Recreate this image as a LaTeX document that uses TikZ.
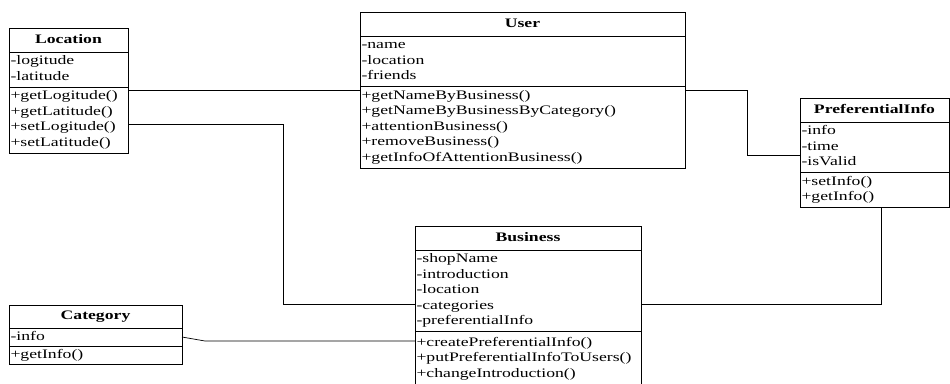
\documentclass[tikz,border=0pt]{standalone}
\usepackage{fontspec}
\setmainfont[FakeStretch=1.36]{Liberation Serif}
\begin{document}
\begin{tikzpicture}[x=1pt,y=-1pt,
  box/.style={draw=black, line width=0.9pt, anchor=north west, inner xsep=1.5pt,
    inner ysep=0pt, outer sep=0pt, font=\fontsize{13}{15.5}\selectfont,
    execute at begin node=\strut, execute at end node=\strut},
  head/.style={box, align=center, minimum height=24pt, font=\fontsize{13}{15.5}\selectfont\bfseries},
  part/.style={box, align=left},
  conn/.style={draw=black, line width=0.7pt}]
\useasboundingbox (0,0) rectangle (950,383);
\fill[white] (0,0) rectangle (950,383);
\begin{scope}
\clip (0,0) rectangle (950,383);

% Location
\node[head, text width=116pt] (locH) at (9,28) {Location};
\node[part, text width=116pt, minimum height=35pt] (locA) at (locH.south west) {-logitude\\-latitude};
\node[part, text width=116pt, minimum height=66pt] (locM) at (locA.south west)
  {+getLogitude()\\+getLatitude()\\+setLogitude()\\+setLatitude()};

% User
\node[head, text width=322pt] (usrH) at (360,12) {User};
\node[part, text width=322pt, minimum height=50.5pt] (usrA) at (usrH.south west) {-name\\-location\\-friends};
\node[part, text width=322pt, minimum height=81.5pt] (usrM) at (usrA.south west)
  {+getNameByBusiness()\\+getNameByBusinessByCategory()\\+attentionBusiness()\\+removeBusiness()\\+getInfoOfAttentionBusiness()};

% PreferentialInfo
\node[head, text width=146pt] (prfH) at (800,98) {PreferentialInfo};
\node[part, text width=146pt, minimum height=50.5pt] (prfA) at (prfH.south west) {-info\\-time\\-isValid};
\node[part, text width=146pt, minimum height=35pt] (prfM) at (prfA.south west) {+setInfo()\\+getInfo()};

% Business
\node[head, text width=223pt] (bizH) at (415,226) {Business};
\node[part, text width=223pt, minimum height=81.5pt] (bizA) at (bizH.south west)
  {-shopName\\-introduction\\-location\\-categories\\-preferentialInfo};
\node[part, text width=223pt, minimum height=54pt] (bizM) at (bizA.south west)
  {+createPreferentialInfo()\\+putPreferentialInfoToUsers()\\+changeIntroduction()};

% Category
\node[head, text width=170pt, minimum height=23pt] (catH) at (9,305) {Category};
\node[part, text width=170pt, minimum height=18pt] (catA) at (catH.south west) {-info};
\node[part, text width=170pt, minimum height=18pt] (catM) at (catA.south west) {+getInfo()};

% bend points of the associations
\coordinate (r1) at (0,90);
\coordinate (b1) at (283,124);
\coordinate (b2) at (283,304);
\coordinate (c1) at (205,341);
\coordinate (d1) at (747,90);
\coordinate (d2) at (747,155);
\coordinate (e1) at (881,304);

% associations
\draw[conn] (locM.east |- r1) -- (usrM.west |- r1);
\draw[conn] (locM.east |- b1) -- (b1) -- (b2) -- (bizA.west |- b2);
\draw[conn] (catA.east) -- (c1) -- (bizM.west |- c1);
\draw[conn] (usrM.east |- d1) -- (d1) -- (d2) -- (prfA.west |- d2);
\draw[conn] (e1 |- prfM.south) -- (e1) -- (bizA.east |- e1);
\end{scope}
\end{tikzpicture}
\end{document}
